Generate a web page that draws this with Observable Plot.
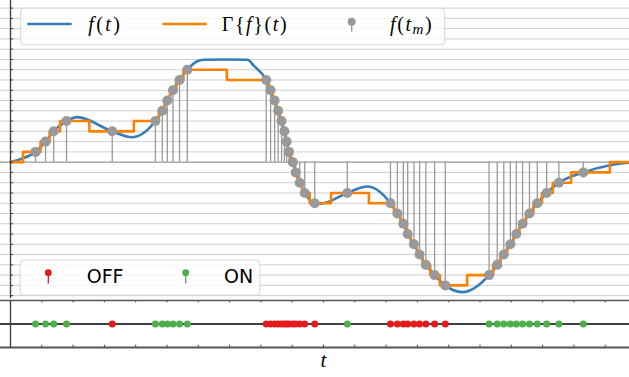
<!DOCTYPE html>
<html>
<head>
<meta charset="utf-8">
<script src="https://cdn.jsdelivr.net/npm/d3@7"></script>
<script src="https://cdn.jsdelivr.net/npm/@observablehq/plot@0.6"></script>
<style>
  html, body { margin: 0; padding: 0; background: #fff; }
  #wrap { position: relative; width: 629px; height: 377px; overflow: hidden; }
  #wrap svg { overflow: hidden; }
  .abs { position: absolute; left: 0; }
</style>
</head>
<body>
<div id="wrap"></div>
<script>
// ---- data ----
// level-crossing sample times t_m and their quantisation levels f(t_m)
const sampleT = [0.80,1.12,1.38,1.79,3.25,4.63,4.85,5.01,5.19,5.40,5.65,8.17,8.31,8.44,8.55,8.66,8.75,8.82,8.90,9.02,9.11,9.24,9.40,9.72,10.76,12.14,12.36,12.55,12.69,12.89,13.07,13.27,13.55,13.89,15.29,15.55,15.76,15.97,16.16,16.36,16.58,16.83,17.13,17.52,18.30];
const sampleLevel = [1,2,3,4,3,4,5,6,7,8,9,8,7,6,5,4,3,2,1,0,-1,-2,-3,-4,-3,-4,-5,-6,-7,-8,-9,-10,-11,-12,-11,-10,-9,-8,-7,-6,-5,-4,-3,-2,-1];
const extraT = [0, 0.38, 2.13, 3.89, 5.965, 6.18, 6.87, 7.57, 7.77, 9.90, 11.40, 14.43, 19.11, 20];
const extraF = [0, 0.35, 4.38, 2.43, 9.83, 9.97, 10.0, 9.97, 9.4, -4.05, -2.37, -12.66, -0.32, 0];
const tStart = 0, tEnd = 20;
const gridLevels = d3.range(-13, 16);
const tickT = d3.range(1, 20);

// ---- derived tables ----
const samples = sampleT.map((t, i) => ({t, L: sampleLevel[i], state: sampleLevel[i] > (i ? sampleLevel[i-1] : 0) ? "ON" : "OFF"}));
const fCurve = samples.map(d => ({t: d.t, f: d.L}))
  .concat(extraT.map((t, i) => ({t, f: extraF[i]})))
  .sort((a, b) => a.t - b.t);
const gamma = [{t: tStart, L: 0}, ...samples, {t: tEnd, L: 0}];

const BLUE = "#377eb8", ORANGE = "#ff7f00", GRAY = "#999999", RED = "#e41a1c", GREEN = "#4daf4a";
const xScale = {domain: [tStart, tEnd], range: [10, 636]};

const topPlot = Plot.plot({
  width: 629, height: 298,
  marginLeft: 0, marginRight: 0, marginTop: 0, marginBottom: 0,
  x: {...xScale, axis: null},
  y: {domain: [-13.18, 15.74], range: [297, 0], axis: null},
  marks: [
    Plot.ruleY(gridLevels.filter(d => d !== 0), {stroke: "#cfcfcf", strokeWidth: 1}),
    Plot.ruleY([0], {stroke: GRAY, strokeWidth: 1.3}),
    Plot.line(fCurve, {x: "t", y: "f", curve: "monotone-x", stroke: BLUE, strokeWidth: 2.6}),
    Plot.line(gamma, {x: "t", y: "L", curve: "step", stroke: ORANGE, strokeWidth: 2.6}),
    Plot.ruleX(samples, {x: "t", y1: 0, y2: "L", stroke: GRAY, strokeWidth: 1.3}),
    Plot.dot(samples, {x: "t", y: "L", r: 5, fill: GRAY, stroke: "none"}),
    Plot.ruleY(gridLevels, {y: d => d, x1: 0, x2: 0.1, stroke: "#444", strokeWidth: 1}),
    Plot.ruleX([tStart], {stroke: "#444", strokeWidth: 1.4})
  ]
});
topPlot.classList.add("abs");
topPlot.style.top = "0px";

const bottomPlot = Plot.plot({
  width: 629, height: 56,
  marginLeft: 0, marginRight: 0, marginTop: 4, marginBottom: 5,
  x: {...xScale, axis: null},
  y: {domain: [-1, 1], axis: null},
  marks: [
    Plot.ruleY([0], {stroke: "#000", strokeWidth: 1.3}),
    Plot.ruleX(tickT, {x: d => d, y1: 1, y2: 0.9, stroke: "#444", strokeWidth: 1}),
    Plot.ruleX(tickT, {x: d => d, y1: -1, y2: -0.9, stroke: "#444", strokeWidth: 1}),
    Plot.ruleY([1], {stroke: "#555", strokeWidth: 1.5}),
    Plot.ruleY([-1], {stroke: "#555", strokeWidth: 2.2}),
    Plot.ruleX([tStart], {y1: -1, y2: 1, stroke: "#444", strokeWidth: 1.4}),
    Plot.dot(samples, {x: "t", y: 0, r: 3.5, fill: d => d.state === "ON" ? GREEN : RED, stroke: "none"})
  ]
});
bottomPlot.classList.add("abs");
bottomPlot.style.top = "296px";

const wrap = document.getElementById("wrap");
wrap.appendChild(topPlot);
wrap.appendChild(bottomPlot);

// ---- legends and axis label (overlay) ----
const ns = "http://www.w3.org/2000/svg";
const ov = document.createElementNS(ns, "svg");
ov.setAttribute("width", 629); ov.setAttribute("height", 377);
ov.setAttribute("class", "abs"); ov.style.top = "0px";
ov.innerHTML = `
  <rect x="20.7" y="8.3" width="424" height="36.5" rx="3.5" fill="rgba(255,255,255,0.8)" stroke="#d6d6d6" stroke-width="1"/>
  <line x1="27.3" x2="71.7" y1="24" y2="24" stroke="${BLUE}" stroke-width="2.6"/>
  <text x="88.3" y="31" font-family="Liberation Serif" font-size="20" textLength="31.5" lengthAdjust="spacing"><tspan font-style="italic">f</tspan>(<tspan font-style="italic">t</tspan>)</text>
  <line x1="162.3" x2="206.7" y1="24" y2="24" stroke="${ORANGE}" stroke-width="2.6"/>
  <text x="221.7" y="31" font-family="Liberation Serif" font-size="20" textLength="65" lengthAdjust="spacing">Γ{<tspan font-style="italic">f</tspan>}(<tspan font-style="italic">t</tspan>)</text>
  <line x1="351.7" x2="351.7" y1="21.7" y2="31.7" stroke="${GRAY}" stroke-width="1.3"/>
  <circle cx="351.7" cy="21.7" r="4" fill="${GRAY}"/>
  <text x="390" y="31" font-family="Liberation Serif" font-size="20" letter-spacing="1.6"><tspan font-style="italic">f</tspan>(<tspan font-style="italic">t</tspan><tspan font-style="italic" font-size="15" dy="3">m</tspan><tspan dy="-3">)</tspan></text>

  <rect x="20" y="260" width="240" height="35" rx="3.5" fill="rgba(255,255,255,0.8)" stroke="#d6d6d6" stroke-width="1"/>
  <line x1="48.3" x2="48.3" y1="272.7" y2="283.5" stroke="${RED}" stroke-width="1.3"/>
  <circle cx="48.3" cy="272.7" r="3.4" fill="${RED}"/>
  <text x="86.7" y="283" font-family="DejaVu Sans" font-size="19">OFF</text>
  <line x1="185.7" x2="185.7" y1="272.7" y2="283.5" stroke="${GREEN}" stroke-width="1.3"/>
  <circle cx="185.7" cy="272.7" r="3.4" fill="${GREEN}"/>
  <text x="224" y="283" font-family="DejaVu Sans" font-size="19">ON</text>

  <text x="323.3" y="367" text-anchor="middle" font-family="Liberation Serif" font-style="italic" font-size="21">t</text>
`;
wrap.appendChild(ov);
</script>
</body>
</html>
